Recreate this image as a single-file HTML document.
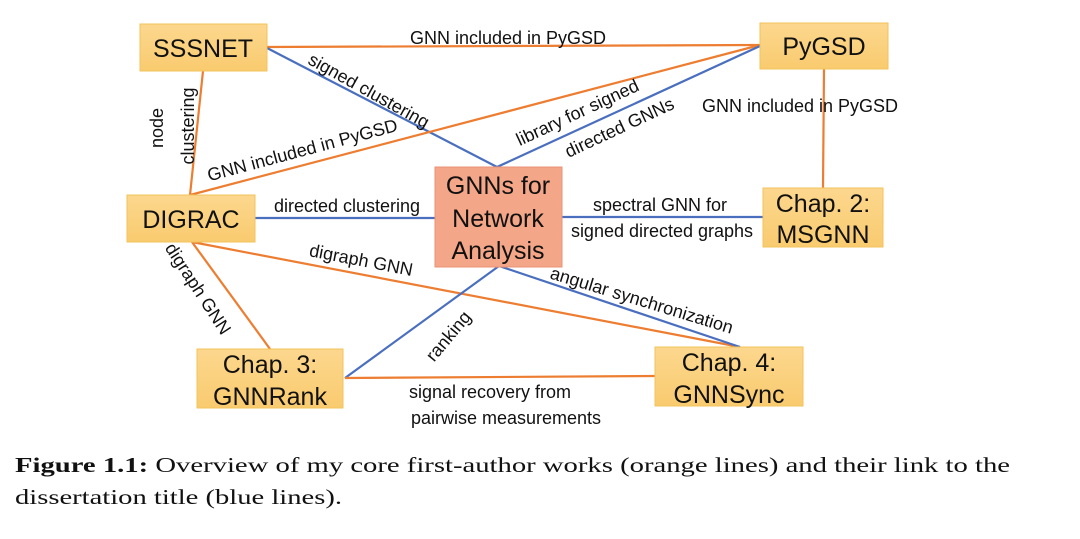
<!DOCTYPE html>
<html><head><meta charset="utf-8"><style>
html,body{margin:0;padding:0;background:#fff;width:1080px;height:539px;overflow:hidden}
svg text{font-family:"Liberation Sans",sans-serif;fill:#111}
</style></head><body>
<svg width="1080" height="539" viewBox="0 0 1080 539" xmlns="http://www.w3.org/2000/svg">
<defs>
<linearGradient id="g" x1="0" y1="0" x2="0" y2="1"><stop offset="0" stop-color="#fcd78e"/><stop offset="1" stop-color="#f9cb6f"/></linearGradient>
</defs>
<g stroke-width="2.2" fill="none">
<line x1="267" y1="47" x2="760" y2="45" stroke="#ed7d31"/>
<line x1="267" y1="48" x2="497" y2="167" stroke="#4a6fbf"/>
<line x1="203" y1="71" x2="190" y2="195" stroke="#ed7d31"/>
<line x1="190" y1="195" x2="760" y2="45" stroke="#ed7d31"/>
<line x1="497" y1="167" x2="760" y2="46" stroke="#4a6fbf"/>
<line x1="255" y1="218" x2="435" y2="218" stroke="#4a6fbf"/>
<line x1="562" y1="217" x2="763" y2="217" stroke="#4a6fbf"/>
<line x1="824" y1="69" x2="823" y2="188" stroke="#ed7d31"/>
<line x1="192" y1="242" x2="270" y2="349" stroke="#ed7d31"/>
<line x1="192" y1="242" x2="740" y2="347" stroke="#ed7d31"/>
<line x1="499" y1="266" x2="740" y2="347" stroke="#4a6fbf"/>
<line x1="499" y1="266" x2="345" y2="378" stroke="#4a6fbf"/>
<line x1="345" y1="378" x2="655" y2="376" stroke="#ed7d31"/>
</g>
<g stroke="#f2c35a" stroke-width="1" fill="url(#g)">
<rect x="140" y="24" width="127" height="47"/>
<rect x="127" y="195" width="128" height="47"/>
<rect x="760" y="23" width="128" height="46"/>
<rect x="763" y="188" width="120" height="59"/>
<rect x="197" y="349" width="146" height="59"/>
<rect x="655" y="347" width="148" height="59"/>
</g>
<rect x="435" y="167" width="127" height="100" fill="#f4a688" stroke="#ea9275" stroke-width="1"/>
<g font-size="25" text-anchor="middle">
<text x="203" y="57">SSSNET</text>
<text x="191" y="228">DIGRAC</text>
<text x="824" y="55">PyGSD</text>
<text x="823" y="212">Chap. 2:</text>
<text x="823" y="243">MSGNN</text>
<text x="270" y="373">Chap. 3:</text>
<text x="270" y="405">GNNRank</text>
<text x="729" y="371">Chap. 4:</text>
<text x="729" y="403">GNNSync</text>
<text x="498" y="194">GNNs for</text>
<text x="498" y="227">Network</text>
<text x="498" y="259">Analysis</text>
</g>
<g font-size="18" text-anchor="middle">
<text x="508" y="44">GNN included in PyGSD</text>
<text x="800" y="112">GNN included in PyGSD</text>
<text x="347" y="212">directed clustering</text>
<text x="660" y="211">spectral GNN for</text>
<text x="662" y="237">signed directed graphs</text>
<text x="490" y="398">signal recovery from</text>
<text x="506" y="424">pairwise measurements</text>
<text transform="translate(366,96) rotate(29)">signed clustering</text>
<text transform="translate(304,156) rotate(-15)">GNN included in PyGSD</text>
<text transform="translate(580,118) rotate(-25)">library for signed</text>
<text transform="translate(622,133) rotate(-25)">directed GNNs</text>
<text transform="translate(163,128) rotate(-90)">node</text>
<text transform="translate(194,126) rotate(-90)">clustering</text>
<text transform="translate(193,292) rotate(57)">digraph GNN</text>
<text transform="translate(360,266) rotate(11)">digraph GNN</text>
<text transform="translate(640,306) rotate(17)">angular synchronization</text>
<text transform="translate(453,340) rotate(-50)">ranking</text>
</g>
<g font-size="21">
<text x="15" y="472" textLength="995" lengthAdjust="spacingAndGlyphs" style="font-family:'Liberation Serif',serif"><tspan font-weight="bold">Figure 1.1:</tspan> Overview of my core first-author works (orange lines) and their link to the</text>
<text x="15" y="504" textLength="327" lengthAdjust="spacingAndGlyphs" style="font-family:'Liberation Serif',serif">dissertation title (blue lines).</text>
</g>
</svg>
</body></html>
